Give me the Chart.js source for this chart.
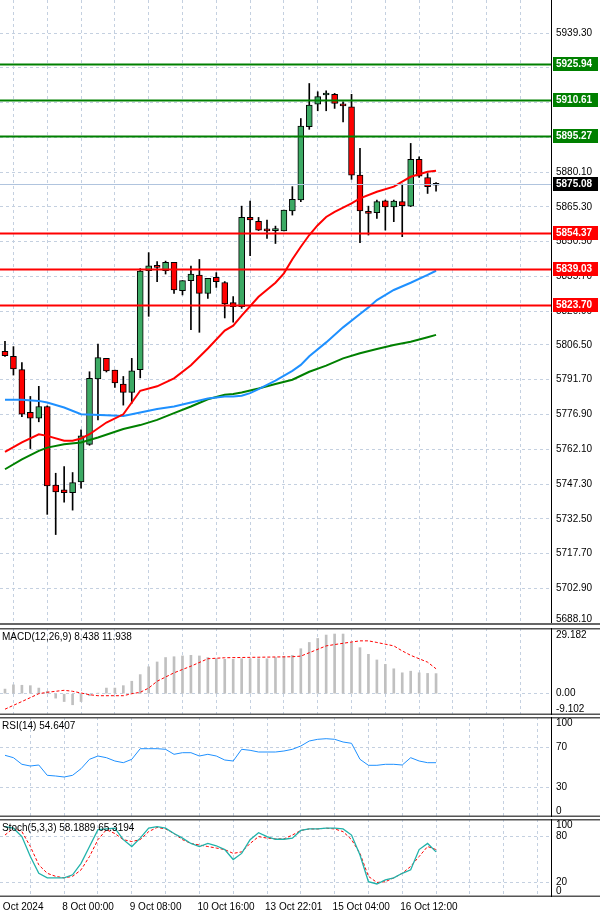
<!DOCTYPE html>
<html><head><meta charset="utf-8">
<script src="https://cdn.jsdelivr.net/npm/chart.js@4/dist/chart.umd.min.js"></script>
<style>
body{margin:0;background:#fff;width:600px;height:919px;position:relative;overflow:hidden}
canvas{position:absolute;left:0}
</style></head><body>
<canvas id="c1" width="600" height="625" style="top:0"></canvas>
<canvas id="c2" width="600" height="87" style="top:628px"></canvas>
<canvas id="c3" width="600" height="100" style="top:717px"></canvas>
<canvas id="c4" width="600" height="78" style="top:819px"></canvas>
<canvas id="c5" width="600" height="21" style="top:898px"></canvas>
<script>
const openV=[5803.8,5801.7,5796,5777.8,5775.3,5780.3,5746.9,5744.8,5743.6,5748.2,5764.2,5792,5800.8,5795.8,5789.9,5786.3,5796,5838.1,5840,5838.1,5841.7,5829.6,5833.9,5836.3,5828.5,5835.3,5833.1,5824.5,5822.8,5860.8,5859.1,5855.7,5855.2,5855.1,5863.6,5868.2,5899.4,5909,5912.9,5913.2,5908.8,5907.9,5878.8,5863.2,5862.8,5867.9,5865.3,5867.5,5865.6,5885.5,5877.8,5874.5];
const highV=[5808.1,5805.8,5799,5784.6,5788.9,5780.6,5751.9,5754.7,5752.2,5770.4,5795.1,5806.9,5800.8,5795.8,5793.1,5800.8,5839,5845.8,5842,5842.2,5841.7,5833.9,5840.1,5842.9,5834.9,5837.3,5833.5,5827.1,5865.6,5867.8,5860.8,5859.7,5857.1,5863.9,5873.9,5902.9,5917.8,5914.3,5914.7,5913.6,5910,5913.2,5890.2,5865.6,5868.2,5868.2,5868.2,5875,5892.3,5886.6,5879.5,5875.6];
const lowV=[5801.6,5793.7,5776,5762.4,5773.8,5734.4,5725.8,5739.6,5736.2,5745.5,5763.8,5774.6,5795,5788.4,5780.9,5781.7,5792.5,5818.7,5833.4,5836.7,5828.5,5827.8,5813,5811.9,5826.3,5831,5818,5816.2,5822.1,5844.5,5855.2,5851.9,5849.7,5855,5861.8,5867.5,5898.3,5906.2,5906.2,5907.2,5901.5,5877,5850,5853.3,5860.4,5855.4,5859,5852.6,5865.4,5877.8,5871,5872];
const closeV=[5801.9,5796.3,5777,5775.3,5780.3,5746.5,5744,5743.6,5747.9,5767.8,5792.3,5801.1,5795.5,5790.3,5786.3,5795.5,5838,5840.2,5839.5,5841.7,5829.9,5833.9,5836.7,5828.5,5834.9,5833.4,5824,5822.8,5860.8,5859.7,5855.4,5855.1,5855.4,5863.9,5868.5,5899.7,5908.6,5912.2,5913.6,5909.3,5908.3,5878.8,5863.6,5862.5,5867.5,5865.3,5867.8,5865.8,5885.5,5878.4,5873.9,5875.1];
const ma1=[5761,null,5765,null,5768.5,5767.8,null,5765.7,5765.7,5766.7,5768.5,null,5773.5,null,5777,null,5787,null,5788.9,null,5792.3,null,5797.9,null,5805,null,5812.6,5814.7,5819,null,5827,null,5833,5837,5843,5848.3,5853.3,5857.5,5861,5863.2,5865,5866.8,5868.9,null,5871.7,null,5873.9,5876,5878.1,5879.2,5880.2,5880.7];
const ma2=[5783.2,null,5783.2,null,5782.7,5782,null,5779.9,null,5777,null,null,5776.6,null,5776.3,null,5777.8,null,5779.2,null,5780.3,null,5782,null,5783.7,null,5784.6,5784.6,5784.9,5786,5787.7,null,5791.3,null,5795.5,5798,5801.7,null,5807.6,null,5814,null,5819.7,5822.5,5825.6,null,5829.9,null,5833,null,5836.3,5838.1];
const ma3=[5753.6,null,5757.8,null,5761.4,5762.8,null,5764.2,null,5765,null,5767.1,null,null,5770.7,null,5772.4,null,5774.6,null,5777.5,null,5780.3,null,5783.4,null,5785.3,5785.6,5786.3,null,5788,null,5789.9,null,5791.7,5793.4,5795.1,null,5797.7,null,5800.8,null,5803,null,5804.8,null,5806.5,null,5807.9,null,5809.8,5810.8];
const levelsGreen=[5925.94,5910.61,5895.27];
const levelsRed=[5854.37,5839.03,5823.70];
const currentPrice=5875.08;
const priceTickLabels=["5939.30","5924.50","5909.70","5894.90","5880.10","5865.30","5850.50","5835.70","5820.90","5806.50","5791.70","5776.90","5762.10","5747.30","5732.50","5717.70","5702.90","5688.10"];
const macdHist=[2.3,4.4,4.2,4.0,2.8,1.2,-2.2,-3.9,-5.5,-3.9,-1.0,0.3,2.8,2.8,4.0,6.2,9.5,13.4,15.8,18.0,18.4,18.8,19.1,18.8,18.0,17.4,17.1,17.1,17.4,17.4,17.4,17.4,18.0,18.4,19.1,22.4,25.5,27.5,29.2,29.7,29.7,25.1,22.9,19.6,16.8,14.6,12.4,10.4,11.2,10.4,10.1,10.0];
const macdSignal=[-7.7,null,-3.9,null,0,0.7,null,1.7,1.2,null,-0.5,-1.0,null,null,-1.0,0,0.7,2.8,6.2,null,10.4,null,13.7,null,17.4,null,17.9,null,null,null,null,null,null,null,18.4,18.7,20.4,null,23.8,null,25.1,null,26.3,26.3,25.5,null,23.8,21.3,19.1,null,15.7,12.4];
const macdTickLabels=["29.182","0.00","-9.102"];
const rsiV=[61.7,59.3,52.7,51,52,41.7,41,40,41.7,48.3,57.7,61,59.3,56,54.3,57.7,68.3,68.3,68.3,67.7,62.7,64.3,64.3,61,62.7,61,57,56,67.7,66.7,65,65,65,66,67.7,71,76,77.7,78.3,77.7,75,73.7,57.7,51.7,51.7,52.7,52.7,52,59.3,56,54.3,54.3];
const rsiTickLabels=["100","70","30","0"];
const stochK=[93,91,80,54,32,26,26,26,30,45,67,89,90,91,76,67,78,91,93,91,84,78,71,67,71,68,63,50,58,76,85,80,76.5,76.5,78,88,90,90,91,91,90,82,56,21,18,23.5,26,32,36.5,63,71,60];
const stochD=[82,91,86.5,67,43,32,28,26,28,36.5,54,76,89,84,76,73.5,76,86.5,92,90,84,76,71,69,67,65,63,58,60,71,80,78,77,77,82,88,90,90,91,90,86.5,76,58,28,20,21,26,32,41,54,67,63];
const stochTickLabels=["100","80","20","0"];
const dateLabels=["7 Oct 2024","8 Oct 00:00","9 Oct 08:00","10 Oct 16:00","13 Oct 22:01","15 Oct 04:00","16 Oct 12:00"];
const dateIdx=[-1,7,15,23,31,39,47];

// x positions are candle index shifted so the 4-candle grid falls on multiples of 4
const SHIFT=3;
const XMIN=-0.59-SHIFT, XMAX=64.6-SHIFT;
const FONT='10px "Liberation Sans", Arial, sans-serif';
const GRID='#c4d0e0';
const idx=openV.map((_,i)=>i);
const pts=a=>a.map((v,i)=>v==null?null:{x:i-SHIFT,y:v}).filter(p=>p);

function xScale(){return{type:'linear',min:XMIN,max:XMAX,offset:false,
  ticks:{display:false,stepSize:4,includeBounds:false},grid:{color:GRID,drawTicks:false},border:{display:false,dash:[3,3]}};}
function yScale(min,max,gridVals){return{type:'linear',position:'right',min,max,
  afterBuildTicks:s=>{s.ticks=gridVals.map(v=>({value:v}))},
  afterFit:s=>{s.width=49},
  ticks:{display:false},grid:{color:GRID,drawTicks:false},border:{display:false,dash:[3,3]}};}

function labelsPlugin(labels,title,extra){return{id:'lbl',afterDraw(ch){
  const c=ch.ctx,a=ch.chartArea,y=ch.scales.y;
  c.save();
  if(extra)extra(ch);
  c.fillStyle='#000';c.font=FONT;c.textBaseline='middle';c.textAlign='left';
  labels.forEach(l=>{let p=y.getPixelForValue(parseFloat(l));p=Math.max(a.top+6,Math.min(a.bottom-6,p));c.fillText(l,556,p);});
  if(title){c.fillText(title,2,a.top+9);}
  c.strokeStyle='#000';c.lineWidth=1;c.beginPath();c.moveTo(a.right+0.5,0);c.lineTo(a.right+0.5,ch.height);c.stroke();
  c.restore();}};}

const base={animation:false,responsive:false,maintainAspectRatio:false,events:[],
  layout:{padding:0},plugins:{legend:{display:false},tooltip:{enabled:false}}};

const up=closeV.map((c,i)=>c>=openV[i]);
new Chart(document.getElementById('c1'),{type:'bar',
 data:{datasets:[
  {type:'line',data:pts(ma1),borderColor:'#ff0000',borderWidth:2,pointRadius:0,spanGaps:true,order:0},
  {type:'line',data:pts(ma2),borderColor:'#1e90ff',borderWidth:2,pointRadius:0,spanGaps:true,order:0},
  {type:'line',data:pts(ma3),borderColor:'#008000',borderWidth:2,pointRadius:0,spanGaps:true,order:0},
  {data:idx.map(i=>({x:i-SHIFT,y:[openV[i],closeV[i]]})),backgroundColor:up.map(u=>u?'#3caa64':'#ff0000'),borderColor:'#000',borderWidth:1,borderSkipped:false,barThickness:6,minBarLength:2,grouped:false,order:1},
  {data:idx.map(i=>({x:i-SHIFT,y:[lowV[i],highV[i]]})),backgroundColor:'#000',barThickness:1,grouped:false,order:2}
 ]},
 options:{...base,scales:{x:xScale(),y:yScale(5687.3,5953.35,priceTickLabels.map(parseFloat))}},
 plugins:[labelsPlugin(priceTickLabels,null,null),{id:'lev',afterDraw(ch){
  const c=ch.ctx,a=ch.chartArea,y=ch.scales.y;c.save();
  const box=(v,bg,lc,lw)=>{const p=Math.round(y.getPixelForValue(v));
    if(lw){c.strokeStyle=lc;c.lineWidth=lw;c.beginPath();c.moveTo(0,p+0.5);c.lineTo(a.right,p+0.5);c.stroke();}
    c.fillStyle=bg;c.fillRect(553,p-7,45,14);
    c.fillStyle='#fff';c.font='bold 10px "Liberation Sans", Arial, sans-serif';c.textBaseline='middle';c.textAlign='left';c.fillText(v.toFixed(2),556,p+0.5);};
  {const p=Math.round(y.getPixelForValue(currentPrice));c.strokeStyle='#b0c4de';c.lineWidth=1;c.beginPath();c.moveTo(0,p+0.5);c.lineTo(a.right,p+0.5);c.stroke();}
  levelsGreen.forEach(v=>box(v,'#008000','#008000',2));
  levelsRed.forEach(v=>box(v,'#ff0000','#ff0000',2));
  box(currentPrice,'#000',null,0);
  c.fillStyle='#666';c.fillRect(0,ch.height-2,600,2);
  c.restore();}}]
});

function sepLine(ch){const c=ch.ctx;c.fillStyle='#555';c.fillRect(0,0,600,1.5);c.fillRect(0,ch.height-1.5,600,1.5);}

new Chart(document.getElementById('c2'),{type:'bar',
 data:{datasets:[
  {type:'line',data:pts(macdSignal),borderColor:'#ff0000',borderWidth:1,borderDash:[3,2],pointRadius:0,spanGaps:true,order:0},
  {data:idx.map(i=>({x:i-SHIFT,y:macdHist[i]})),backgroundColor:'#c0c0c0',barThickness:2,grouped:false,order:1}
 ]},
 options:{...base,scales:{x:xScale(),y:yScale(-10.6,32.7,[0])}},
 plugins:[labelsPlugin(macdTickLabels,'MACD(12,26,9) 8.438 11.938',sepLine)]
});

new Chart(document.getElementById('c3'),{type:'line',
 data:{datasets:[{data:pts(rsiV),borderColor:'#1e90ff',borderWidth:1,pointRadius:0}]},
 options:{...base,scales:{x:xScale(),y:yScale(0,100,[70,30])}},
 plugins:[labelsPlugin(rsiTickLabels,'RSI(14) 54.6407',sepLine)]
});

new Chart(document.getElementById('c4'),{type:'line',
 data:{datasets:[
  {data:pts(stochK),borderColor:'#20b2aa',borderWidth:1.3,pointRadius:0},
  {data:pts(stochD),borderColor:'#ff0000',borderWidth:1,borderDash:[3,2],pointRadius:0}
 ]},
 options:{...base,scales:{x:xScale(),y:yScale(1,103,[80,20])}},
 plugins:[labelsPlugin(stochTickLabels,'Stoch(5,3,3) 58.1889 65.3194',sepLine)]
});

new Chart(document.getElementById('c5'),{type:'line',
 data:{datasets:[{data:[]}]},
 options:{...base,scales:{
   x:{type:'linear',min:XMIN,max:XMAX,ticks:{display:false},grid:{display:false},border:{display:false}},
   y:{position:'right',ticks:{display:false},grid:{display:false},border:{display:false},afterFit:s=>{s.width=49}}}},
 plugins:[{id:'d',afterDraw(ch){const c=ch.ctx,x=ch.scales.x;c.save();c.fillStyle='#000';c.font=FONT;c.textBaseline='middle';c.textAlign='left';
   dateLabels.forEach((l,k)=>{const px=x.getPixelForValue(dateIdx[k]-SHIFT);c.fillText(l,px-2,9);});
   c.restore();}}]
});
</script></body></html>
